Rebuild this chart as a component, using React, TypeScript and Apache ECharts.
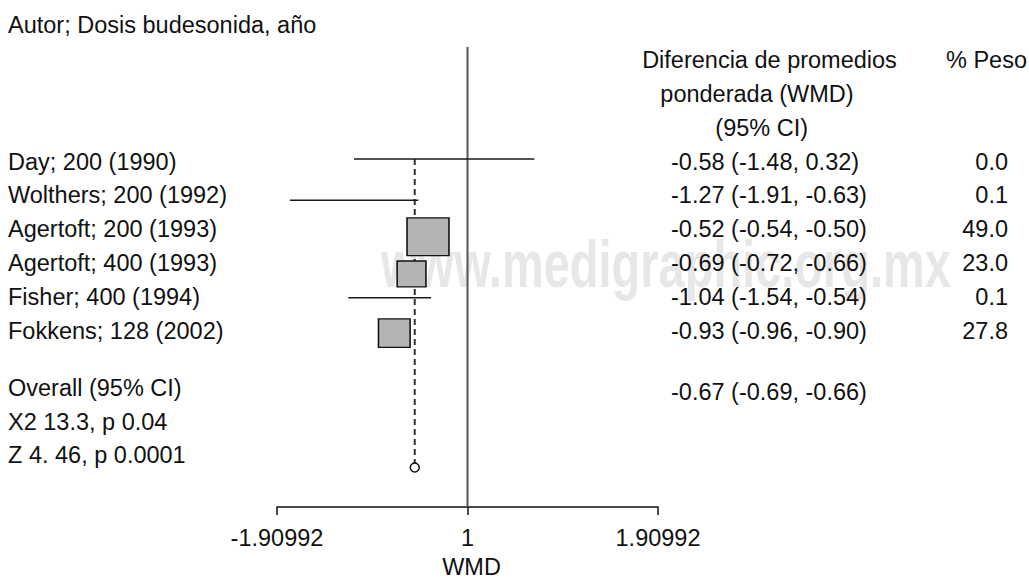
import React, { useEffect, useRef } from 'react';
import * as echarts from 'echarts';

// ---- data ----
const titleText = 'Autor; Dosis budesonida, año';
const studies = [
  'Day; 200 (1990)',
  'Wolthers; 200 (1992)',
  'Agertoft; 200 (1993)',
  'Agertoft; 400 (1993)',
  'Fisher; 400 (1994)',
  'Fokkens; 128 (2002)',
];
const wmdText = [
  '-0.58 (-1.48, 0.32)',
  '-1.27 (-1.91, -0.63)',
  '-0.52 (-0.54, -0.50)',
  '-0.69 (-0.72, -0.66)',
  '-1.04 (-1.54, -0.54)',
  '-0.93 (-0.96, -0.90)',
];
const weights = [0.0, 0.1, 49.0, 23.0, 0.1, 27.8];
const weightText = ['0.0', '0.1', '49.0', '23.0', '0.1', '27.8'];
// positions of the marks as drawn in the figure (axis units)
const plotEst = [-0.234, -1.137, -0.396, -0.561, -0.781, -0.734];
const plotLow = [-1.138, -1.78, -0.416, -0.581, -1.195, -0.754];
const plotHigh = [0.67, -0.493, -0.376, -0.541, -0.366, -0.714];
const markRow = [-0.08, 1.14, 2.22, 3.32, 4.02, 5.07];
const overallPlot = -0.529;
const overallRow = 9.04;
const overallLabels = ['Overall (95% CI)', 'X2 13.3, p 0.04', 'Z 4. 46, p 0.0001'];
const overallWmd = '-0.67 (-0.69, -0.66)';
const headerLines = ['Diferencia de promedios', 'ponderada (WMD)', '(95% CI)'];
const weightHeader = '% Peso';
const tickLabels = ['-1.90992', '1', '1.90992'];
const axisLimit = 1.90992;
const axisTitle = 'WMD';
const watermark = 'www.medigraphic.org.mx';

export default function App() {
  const ref = useRef<HTMLDivElement>(null);
  useEffect(() => {
    if (!ref.current) return;
    const chart = echarts.init(ref.current, null, { renderer: 'svg' });
    const family = "'Liberation Sans', Arial, Helvetica, sans-serif";
    const fs = 23.5;
    const ink = '#111';
    const yMin = -3.39;
    const yMax = 10.21;

    const ciData = studies.map((_, i) => [plotLow[i], plotHigh[i], markRow[i]]);
    const boxData = studies
      .map((_, i) => [plotEst[i], markRow[i], weights[i]])
      .filter((d) => d[2] >= 1);

    chart.setOption({
      animation: false,
      textStyle: { fontFamily: family },
      grid: { left: 277, width: 381, top: 47, height: 460, containLabel: false, outerBoundsMode: 'none' },
      xAxis: {
        type: 'value',
        min: -axisLimit,
        max: axisLimit,
        interval: axisLimit,
        splitLine: { show: false },
        axisLine: { onZero: false, lineStyle: { color: ink, width: 1.5 } },
        axisTick: { length: 8, lineStyle: { color: ink, width: 1.5 } },
        axisLabel: {
          fontSize: fs,
          color: ink,
          margin: 19,
          showMinLabel: true,
          showMaxLabel: true,
          fontFamily: family,
          formatter: (v: number) => tickLabels[Math.round(v / axisLimit) + 1],
        },
        name: axisTitle,
        nameLocation: 'middle',
        nameGap: 48,
        nameTextStyle: { fontSize: fs, color: ink, fontFamily: family, padding: [0, 0, 0, 8] },
      },
      yAxis: { type: 'value', inverse: true, min: yMin, max: yMax, show: false },
      series: [
        {
          type: 'line',
          data: [[0, yMin], [0, yMax]],
          symbol: 'none',
          lineStyle: { color: '#555', width: 2 },
          z: 2,
        },
        {
          type: 'line',
          data: [[overallPlot, markRow[0]], [overallPlot, overallRow - 0.13]],
          symbol: 'none',
          lineStyle: { color: '#333', width: 2, type: [6, 4] },
          z: 3,
        },
        {
          type: 'custom',
          data: ciData,
          z: 4,
          renderItem: (params: any, api: any) => {
            const a = api.coord([api.value(0), api.value(2)]);
            const b = api.coord([api.value(1), api.value(2)]);
            return {
              type: 'line',
              shape: { x1: a[0], y1: a[1], x2: b[0], y2: b[1] },
              style: { stroke: '#1a1a1a', lineWidth: 1.5 },
            };
          },
        },
        {
          type: 'scatter',
          data: boxData,
          symbol: 'rect',
          symbolSize: (v: number[]) => {
            const s = Math.sqrt(v[2]) * 6;
            return [s, s * 0.9];
          },
          itemStyle: { color: '#b4b4b4', borderColor: ink, borderWidth: 1.5, opacity: 1 },
          z: 5,
        },
        {
          type: 'scatter',
          data: [[overallPlot, overallRow]],
          symbol: 'circle',
          symbolSize: 9,
          itemStyle: { color: '#fff', borderColor: ink, borderWidth: 1.5, opacity: 1 },
          z: 5,
        },
      ],
    });

    const yPx = (r: number) => chart.convertToPixel({ yAxisIndex: 0 }, r) as number;
    const txt = (text: string, x: number, row: number, align: string) => ({
      type: 'text',
      z: 100,
      style: {
        text,
        x,
        y: yPx(row),
        font: `${fs}px ${family}`,
        fill: ink,
        align,
        verticalAlign: 'middle',
        textAlign: align,
        textVerticalAlign: 'middle',
      },
    });

    const graphics: any[] = [
      {
        type: 'text',
        z: -10,
        x: 666,
        y: 264,
        scaleX: 0.712,
        style: {
          text: watermark,
          x: 0,
          y: 0,
          font: `bold 66px ${family}`,
          fill: '#e7e7e7',
          align: 'center',
          verticalAlign: 'middle',
          textAlign: 'center',
          textVerticalAlign: 'middle',
        },
      },
      txt(titleText, 8, -4.05, 'left'),
      txt(headerLines[0], 769.5, -3, 'center'),
      txt(headerLines[1], 757, -2, 'center'),
      txt(headerLines[2], 761.7, -1, 'center'),
      txt(weightHeader, 1027, -3, 'right'),
    ];
    studies.forEach((s, i) => {
      graphics.push(txt(s, 8, i, 'left'));
      graphics.push(txt(wmdText[i], 671, i, 'left'));
      graphics.push(txt(weightText[i], 1008, i, 'right'));
    });
    const overallRows = [6.7, 7.69, 8.68];
    overallLabels.forEach((s, i) => graphics.push(txt(s, 8, overallRows[i], 'left')));
    graphics.push(txt(overallWmd, 671, 6.8, 'left'));

    chart.setOption({ graphic: graphics });

    return () => chart.dispose();
  }, []);

  return (
    <div
      ref={ref}
      style={{ position: 'fixed', left: 0, top: 0, width: 1029, height: 579, background: '#fff' }}
    />
  );
}
